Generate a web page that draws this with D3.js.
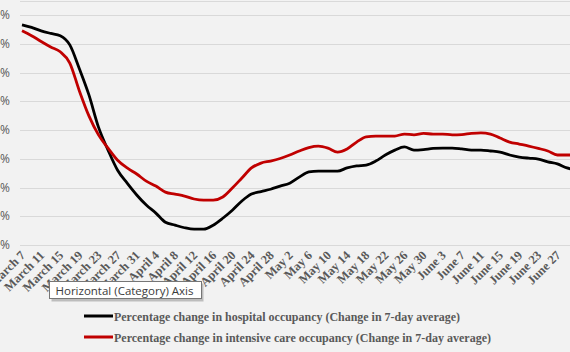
<!DOCTYPE html>
<html>
<head>
<meta charset="utf-8">
<script src="https://cdn.jsdelivr.net/npm/d3@7"></script>
<style>
  body { margin: 0; background: #f2f2f2; overflow: hidden; }
</style>
</head>
<body>
<div id="container"></div>
<script>
/** CONSTANTS AND GLOBALS */
const width = 570,
  height = 352,
  margin = { top: 15, bottom: 107, left: 20, right: 0 };

// dates, every second day
const dates = ["3/7","3/9","3/11","3/13","3/15","3/17","3/19","3/21","3/23","3/25","3/27","3/29","3/31",
  "4/2","4/4","4/6","4/8","4/10","4/12","4/14","4/16","4/18","4/20","4/22","4/24","4/26","4/28","4/30",
  "5/2","5/4","5/6","5/8","5/10","5/12","5/14","5/16","5/18","5/20","5/22","5/24","5/26","5/28","5/30",
  "6/1","6/3","6/5","6/7","6/9","6/11","6/13","6/15","6/17","6/19","6/21","6/23","6/25","6/27","6/29","7/1"];

const hospital = [36.6,35.7,34.5,33.6,32.8,29.6,21.3,12.2,1.0,-7.0,-14.0,-18.5,-22.6,
  -26.1,-28.9,-32.1,-33.1,-34.0,-34.5,-34.5,-33.1,-30.7,-27.9,-24.7,-22.3,-21.4,-20.6,-19.5,
  -18.5,-16.4,-14.6,-14.3,-14.3,-14.3,-13.2,-12.5,-12.2,-10.8,-8.7,-7.0,-5.9,-7.0,-6.8,
  -6.4,-6.3,-6.3,-6.6,-7.0,-7.0,-7.3,-7.7,-8.7,-9.4,-9.8,-10.1,-11.1,-11.8,-13.2,-13.9];

const icu = [34.5,32.8,30.8,28.9,27.2,23.3,13.6,4.9,-1.7,-6.3,-10.5,-13.2,-15.3,
  -17.8,-19.5,-21.6,-22.3,-23.0,-24.0,-24.4,-24.4,-23.3,-20.2,-16.7,-13.2,-11.5,-10.8,-9.9,
  -8.7,-7.3,-6.1,-5.6,-6.3,-7.7,-6.6,-4.2,-2.4,-2.1,-2.1,-2.1,-1.4,-1.7,-1.2,
  -1.4,-1.4,-1.7,-1.6,-1.2,-1.0,-1.4,-2.8,-4.2,-4.9,-5.6,-6.4,-7.3,-8.7,-8.7,-8.7];

const tickLabels = ["March 7","March 11","March 15","March 19","March 23","March 27","March 31",
  "April 4","April 8","April 12","April 16","April 20","April 24","April 28",
  "May 2","May 6","May 10","May 14","May 18","May 22","May 26","May 30",
  "June 3","June 7","June 11","June 15","June 19","June 23","June 27"];

const yTicks = [40, 30, 20, 10, 0, -10, -20, -30, -40];

const seriesNames = [
  "Percentage change in hospital occupancy (Change in 7-day average)",
  "Percentage change in intensive care occupancy (Change in 7-day average)"
];
const seriesColors = ["#000000", "#c00000"];

const parseDay = d3.timeParse("%m/%d/%Y");
const parseLabel = d3.timeParse("%B %d %Y");

let svg;

init();

/** INITIALIZING FUNCTION */
function init() {
  svg = d3.select("#container")
    .append("svg")
    .attr("width", width)
    .attr("height", height)
    .style("font-family", "'Liberation Serif', serif");

  svg.append("rect")
    .attr("width", width).attr("height", height)
    .attr("fill", "#f2f2f2");

  const xScale = d3.scaleTime()
    .domain([parseDay("3/7/2020"), parseDay("6/27/2020")])
    .range([22, 557.4]);

  const yScale = d3.scaleLinear()
    .domain([-40, 40])
    .range([245, 15]);

  // plot top border
  svg.append("line")
    .attr("x1", margin.left).attr("x2", width)
    .attr("y1", 1.5).attr("y2", 1.5)
    .attr("stroke", "#d9d9d9");

  // gridlines
  svg.selectAll("line.grid")
    .data(yTicks)
    .join("line")
    .attr("class", "grid")
    .attr("x1", margin.left)
    .attr("x2", width)
    .attr("y1", d => Math.round(yScale(d)) + 0.5)
    .attr("y2", d => Math.round(yScale(d)) + 0.5)
    .attr("stroke", "#d9d9d9")
    .attr("stroke-width", 1);

  // y labels (cut off at left edge like the original)
  svg.selectAll("text.ylab")
    .data(yTicks)
    .join("text")
    .attr("class", "ylab")
    .attr("x", 10)
    .attr("y", d => yScale(d) + 4)
    .attr("text-anchor", "end")
    .attr("fill", "#595959")
    .style("font-family", "'Open Sans', 'DejaVu Sans', sans-serif")
    .style("font-size", "12px")
    .text(d => d + "%");

  // x labels
  svg.selectAll("text.xlab")
    .data(tickLabels)
    .join("text")
    .attr("class", "xlab")
    .attr("text-anchor", "end")
    .attr("transform", d => {
      const x = xScale(parseLabel(d + " 2020")) + 4;
      return `translate(${x},256) rotate(-45)`;
    })
    .attr("fill", "#595959")
    .style("font-size", "12.5px")
    .style("font-weight", "bold")
    .text(d => d);

  // lines
  const series = [hospital, icu];
  const lineGen = d3.line()
    .x((d, i) => xScale(parseDay(dates[i] + "/2020")))
    .y(d => yScale(d))
    .curve(d3.curveMonotoneX);

  svg.selectAll("path.series")
    .data(series)
    .join("path")
    .attr("class", "series")
    .attr("d", d => lineGen(d))
    .attr("fill", "none")
    .attr("stroke", (d, i) => seriesColors[i])
    .attr("stroke-width", 2.8)
    .attr("stroke-linejoin", "round");

  // tooltip box
  const tip = svg.append("g").attr("transform", "translate(49.5,281.5)");
  tip.append("rect")
    .attr("x", 2).attr("y", 2)
    .attr("width", 152).attr("height", 18)
    .attr("fill", "#bdbdbd");
  tip.append("rect")
    .attr("width", 152).attr("height", 17)
    .attr("fill", "#ffffff")
    .attr("stroke", "#767676");
  tip.append("text")
    .attr("x", 6).attr("y", 13)
    .attr("fill", "#3b3b3b")
    .style("font-family", "'Open Sans', 'DejaVu Sans', sans-serif")
    .style("font-size", "11.5px")
    .text("Horizontal (Category) Axis");

  // legend
  const legend = svg.selectAll("g.legend")
    .data(seriesNames)
    .join("g")
    .attr("class", "legend")
    .attr("transform", (d, i) => `translate(84,${316 + i * 21})`);

  legend.append("line")
    .attr("x1", 0).attr("x2", 29)
    .attr("stroke", (d, i) => seriesColors[i])
    .attr("stroke-width", 3);

  legend.append("text")
    .attr("x", 30)
    .attr("y", 4.5)
    .attr("fill", "#595959")
    .style("font-size", "12.5px")
    .style("font-weight", "bold")
    .attr("textLength", (d, i) => i === 0 ? 346 : 377)
    .attr("lengthAdjust", "spacingAndGlyphs")
    .text(d => d);
}
</script>
</body>
</html>
